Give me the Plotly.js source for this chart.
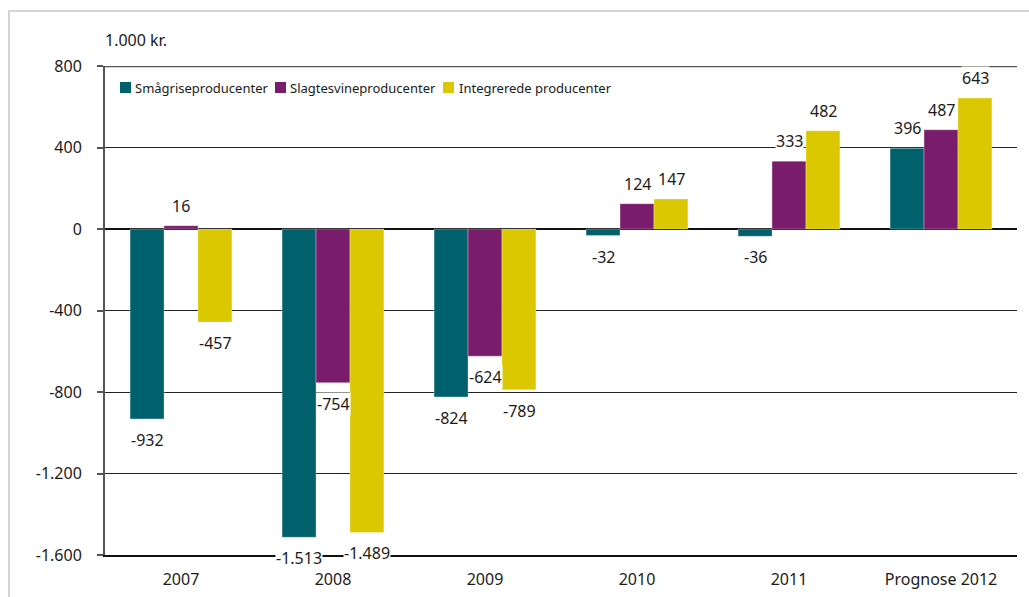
<!DOCTYPE html>
<html>
<head>
<meta charset="utf-8">
<script src="https://cdn.plot.ly/plotly-3.0.1.min.js"></script>
<style>
  html, body { margin:0; padding:0; background:#fff; }
  #chart { width:1029px; height:597px; }
  #frame { position:absolute; left:8px; top:10px; width:1100px; height:700px; border:2px solid #d4d4d4; pointer-events:none; box-sizing:border-box; }
</style>
</head>
<body>
<div id="chart"></div>
<div id="frame"></div>
<script>
const categories = ["2007", "2008", "2009", "2010", "2011", "Prognose 2012"];
const smaagrise = [-932, -1513, -824, -32, -36, 396];
const slagtesvin = [16, -754, -624, 124, 333, 487];
const integrerede = [-457, -1489, -789, 147, 482, 643];
const seriesNames = ["Smågriseproducenter", "Slagtesvineproducenter", "Integrerede producenter"];
const seriesColors = ["#00616D", "#7A1C6C", "#DCC800"];
const yTicks = [800, 400, 0, -400, -800, -1200, -1600];

const series = [smaagrise, slagtesvin, integrerede];
const fontFam = "Noto Sans, Open Sans, sans-serif";

function fmt(v) {
  const s = Math.abs(v).toString().replace(/\B(?=(\d{3})+(?!\d))/g, ".");
  return (v < 0 ? "-" : "") + s;
}

const traces = series.map((vals, i) => ({
  type: "bar",
  name: seriesNames[i],
  x: categories,
  y: vals,
  marker: { color: seriesColors[i], line: { color: "rgba(255,255,255,0.6)", width: 0.5 } },
  hoverinfo: "x+y"
}));

// plot area geometry (pixels) used for the hand-placed legend
const M = { l: 105, r: 12, t: 66, b: 42 };
const PW = 1029 - M.l - M.r, PH = 597 - M.t - M.b;
const px2x = p => (p - M.l) / PW;
const py2y = p => (597 - M.b - p) / PH;

const barPx = 34;
const annotations = [];
const shapes = [];
series.forEach((vals, i) => {
  vals.forEach((v, j) => {
    annotations.push({
      x: j, y: v, xref: "x", yref: "y",
      text: fmt(v), showarrow: false,
      xshift: (i - 1) * barPx,
      yshift: v < 0 ? -21 : 20,
      yanchor: "middle",
      bgcolor: "#ffffff",
      borderpad: 0,
      font: { family: fontFam, size: 16, color: "#1a1a1a" }
    });
  });
});
annotations.push({
  xref: "paper", yref: "paper", x: 0, y: 1, xanchor: "left", yanchor: "bottom",
  yshift: 13, xshift: -2,
  text: "1.000 kr.", showarrow: false,
  font: { family: fontFam, size: 16, color: "#1a1a1a" }
});

// legend: squares + labels
const legSq = [120, 275, 443];
const legTx = [133, 288, 457];
seriesNames.forEach((n, i) => {
  shapes.push({
    type: "rect", xref: "paper", yref: "paper",
    x0: px2x(legSq[i]), x1: px2x(legSq[i] + 11),
    y0: py2y(93), y1: py2y(82),
    fillcolor: seriesColors[i], line: { width: 0 }
  });
  annotations.push({
    xref: "paper", yref: "paper", x: px2x(legTx[i]), y: py2y(88),
    xanchor: "left", yanchor: "middle", text: n, showarrow: false,
    font: { family: fontFam, size: 13, color: "#1a1a1a" }
  });
});
shapes.push({
  type: "line", xref: "paper", yref: "y", x0: 0, x1: 1, y0: 800, y1: 800,
  line: { color: "#555", width: 2.5 }
});

const layout = {
  width: 1029, height: 597,
  margin: M,
  paper_bgcolor: "rgba(0,0,0,0)",
  plot_bgcolor: "rgba(0,0,0,0)",
  separators: ",.",
  barmode: "group",
  bargap: 0.33,
  bargroupgap: 0,
  font: { family: fontFam, size: 16, color: "#1a1a1a" },
  showlegend: false,
  xaxis: {
    type: "category",
    range: [-0.5, categories.length - 0.5],
    showline: true, linecolor: "#111", linewidth: 1.5, mirror: false,
    ticks: "", showgrid: false,
    tickfont: { family: fontFam, size: 16, color: "#1a1a1a" },
    ticklabelstandoff: 9,
    fixedrange: true
  },
  yaxis: {
    range: [-1600, 800],
    tickvals: yTicks,
    ticktext: yTicks.map(fmt),
    showline: true, linecolor: "#555", linewidth: 2,
    ticks: "outside", ticklen: 6, tickcolor: "#555", tickwidth: 2,
    showgrid: true, gridcolor: "#222", gridwidth: 1,
    zeroline: true, zerolinecolor: "#111", zerolinewidth: 1.5,
    tickfont: { family: fontFam, size: 16, color: "#1a1a1a" },
    ticklabelstandoff: 12,
    fixedrange: true
  },
  shapes: shapes,
  annotations: annotations
};

Plotly.newPlot("chart", traces, layout, { displayModeBar: false, staticPlot: true });
</script>
</body>
</html>
